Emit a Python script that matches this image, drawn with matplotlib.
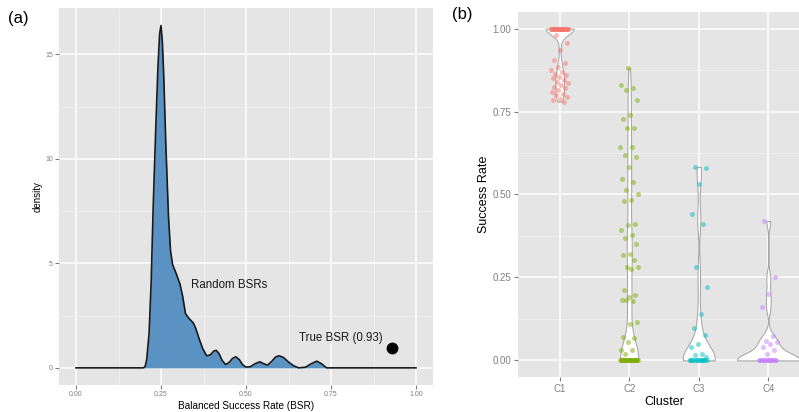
import matplotlib
matplotlib.use('Agg')
import matplotlib.pyplot as plt
import numpy as np

plt.rcParams['font.family'] = ['Liberation Sans', 'DejaVu Sans']

# (a) density of random BSRs
bsr_grid = [0.000, 0.198, 0.203, 0.208, 0.215, 0.221, 0.227, 0.234, 0.241, 0.246,
            0.250, 0.254, 0.258, 0.264, 0.272, 0.278, 0.284, 0.295, 0.306, 0.314,
            0.322, 0.333, 0.345, 0.352, 0.362, 0.372, 0.384, 0.395, 0.405, 0.412,
            0.420, 0.430, 0.440, 0.450, 0.460, 0.470, 0.480, 0.490, 0.500, 0.512,
            0.527, 0.541, 0.552, 0.563, 0.575, 0.587, 0.597, 0.610, 0.625, 0.640,
            0.655, 0.675, 0.692, 0.708, 0.722, 0.737, 1.000]
bsr_density = [0, 0, 0.05, 0.40, 1.67, 4.06, 7.70, 11.2, 14.4, 16.0,
               16.38, 15.6, 14.0, 10.8, 7.25, 5.6, 4.95, 4.5, 4.0, 3.4,
               2.6, 2.35, 2.15, 1.9, 1.4, 0.95, 0.58, 0.62, 0.8, 0.84,
               0.7, 0.35, 0.16, 0.25, 0.45, 0.53, 0.4, 0.15, 0.04, 0.05,
               0.2, 0.29, 0.2, 0.13, 0.3, 0.52, 0.58, 0.5, 0.28, 0.1,
               0.0, 0.03, 0.2, 0.32, 0.2, 0.0, 0.0]
true_bsr = 0.93
true_bsr_y = 0.95

# (b) success rate per cluster
clusters = ['C1', 'C2', 'C3', 'C4']
c1_values = [1.0] * 28 + [0.98, 0.957, 0.935, 0.905, 0.895, 0.885, 0.874, 0.87, 0.864,
                          0.86, 0.855, 0.85, 0.845, 0.84, 0.835, 0.83, 0.824, 0.82,
                          0.814, 0.81, 0.804, 0.80, 0.795, 0.787, 0.784, 0.78]
c2_values = [0.0] * 25 + [0.881, 0.829, 0.822, 0.814, 0.784, 0.739, 0.729, 0.70, 0.70,
                          0.643, 0.643, 0.618, 0.613, 0.583, 0.548, 0.538, 0.513, 0.503,
                          0.482, 0.48, 0.41, 0.407, 0.392, 0.377, 0.37, 0.352, 0.32,
                          0.319, 0.302, 0.283, 0.281, 0.276, 0.211, 0.196, 0.191, 0.181,
                          0.179, 0.181, 0.116, 0.11, 0.07, 0.067, 0.055, 0.03, 0.03, 0.02]
c3_values = [0.0] * 15 + [0.583, 0.58, 0.533, 0.44, 0.41, 0.28, 0.221, 0.141, 0.097,
                          0.077, 0.05, 0.04, 0.02, 0.015, 0.01]
c4_values = [0.0] * 15 + [0.42, 0.25, 0.20, 0.16, 0.073, 0.06, 0.055, 0.05, 0.04,
                          0.03, 0.018]

cluster_colors = ['#F8766D', '#7CAE00', '#00BFC4', '#C77CFF']
violin_bw = [0.018, 0.05, 0.038, 0.02]
violin_width = [0.40, 0.26, 0.46, 0.90]

GREY_TXT = '#7F7F7F'


def gg_style(ax):
    ax.set_facecolor('#E5E5E5')
    for s in ax.spines.values():
        s.set_visible(False)
    ax.set_axisbelow(True)
    ax.grid(which='major', color='white', lw=1.1)
    ax.grid(which='minor', color='#F2F2F2', lw=0.55)
    ax.tick_params(which='major', color=GREY_TXT, labelcolor=GREY_TXT, length=3, width=0.8)
    ax.tick_params(which='minor', length=0)


fig = plt.figure(figsize=(7.99, 4.12), dpi=100)
ax_a = fig.add_axes([59 / 799, 27 / 412, 374 / 799, 377 / 412])
ax_b = fig.add_axes([518 / 799, 35 / 412, 292 / 799, 365 / 412])

# ---- panel (a)
gg_style(ax_a)
ax_a.fill_between(bsr_grid, bsr_density, color='#5A92C4', lw=0)
ax_a.plot(bsr_grid, bsr_density, color='#1a1a1a', lw=1.2)
ax_a.plot([true_bsr], [true_bsr_y], 'o', color='black', ms=7.5)
ax_a.text(0.449, 3.97, 'Random BSRs', fontsize=8.3, ha='center', va='center', color='#1a1a1a')
ax_a.text(0.78, 1.43, 'True BSR (0.93)', fontsize=8.3, ha='center', va='center', color='#1a1a1a')
ax_a.set_xlim(-0.05, 1.05)
ax_a.set_ylim(-0.82, 17.22)
ax_a.set_xticks([0, 0.25, 0.5, 0.75, 1.0])
ax_a.set_xticklabels(['0.00', '0.25', '0.50', '0.75', '1.00'])
ax_a.set_xticks([0.125, 0.375, 0.625, 0.875], minor=True)
ax_a.set_yticks([0, 5, 10, 15])
ax_a.set_yticks([2.5, 7.5, 12.5], minor=True)
ax_a.tick_params(labelsize=5, pad=1.5)
ax_a.set_xlabel('Balanced Success Rate (BSR)', fontsize=7.2, labelpad=2)
ax_a.set_ylabel('density', fontsize=7, labelpad=2)

# ---- panel (b)
gg_style(ax_b)
all_values = [c1_values, c2_values, c3_values, c4_values]
for i, vals in enumerate(all_values):
    pos = i + 1
    bw = violin_bw[i]
    parts = ax_b.violinplot([vals], positions=[pos], widths=violin_width[i], points=400,
                            bw_method=lambda k, bw=bw: bw / np.std(k.dataset, ddof=1),
                            showextrema=False)
    for body in parts['bodies']:
        body.set_facecolor('white')
        body.set_edgecolor('#A6A6A6')
        body.set_alpha(1)
        body.set_linewidth(0.75)
        body.set_zorder(2)
    # jitter spread for the points (deterministic)
    jit = [((j * 0.6180339887) % 1 - 0.5) * 0.26 for j in range(len(vals))]
    ax_b.scatter(np.array(jit) + pos, vals, s=13, color=cluster_colors[i], alpha=0.5,
                 lw=0, zorder=3)

ax_b.set_xlim(0.4, 4.6)
ax_b.set_ylim(-0.05, 1.05)
ax_b.set_xticks([1, 2, 3, 4])
ax_b.set_xticklabels(clusters)
ax_b.set_yticks([0, 0.25, 0.5, 0.75, 1.0])
ax_b.set_yticklabels(['0.00', '0.25', '0.50', '0.75', '1.00'])
ax_b.set_yticks([0.125, 0.375, 0.625, 0.875], minor=True)
ax_b.tick_params(labelsize=7, pad=2)
ax_b.set_xlabel('Cluster', fontsize=9, labelpad=1.5)
ax_b.set_ylabel('Success Rate', fontsize=9, labelpad=2)

fig.text(18.5 / 799, 1 - 18 / 412, '(a)', fontsize=12, ha='center', va='center')
fig.text(462.5 / 799, 1 - 14 / 412, '(b)', fontsize=12, ha='center', va='center')

fig.savefig('out.png', dpi=100)
